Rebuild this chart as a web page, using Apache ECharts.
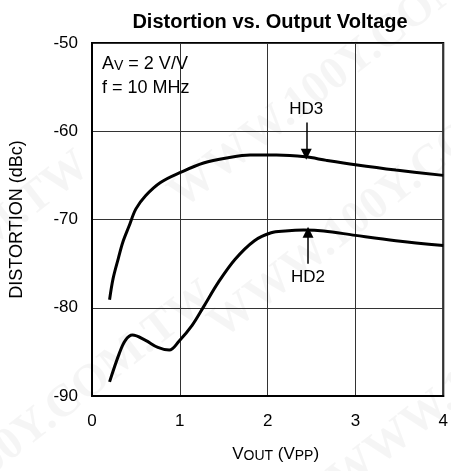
<!DOCTYPE html>
<html><head><meta charset="utf-8">
<script src="https://cdn.jsdelivr.net/npm/echarts@6/dist/echarts.min.js"></script>
<style>html,body{margin:0;padding:0;background:#fff}#c{width:451px;height:471px}</style>
</head><body><div id="c"></div>
<script>
// Data
const hd3X = [0.2, 0.24, 0.3, 0.35, 0.42, 0.5, 0.61, 0.78, 1.0, 1.27, 1.55, 1.8, 2.1, 2.43, 2.67, 3.0, 3.46, 4.0];
const hd3Y = [-79.1, -76.7, -74.4, -72.6, -70.8, -68.8, -67.3, -65.8, -64.7, -63.6, -63.0, -62.7, -62.7, -62.9, -63.3, -63.8, -64.4, -65.0];
const hd2X = [0.2, 0.31, 0.38, 0.46, 0.61, 0.75, 0.88, 0.99, 1.14, 1.27, 1.44, 1.63, 1.85, 2.04, 2.2, 2.41, 2.64, 3.0, 3.46, 4.0];
const hd2Y = [-88.4, -85.2, -83.7, -83.1, -83.7, -84.5, -84.8, -83.8, -82.0, -79.9, -77.1, -74.5, -72.4, -71.5, -71.3, -71.2, -71.3, -71.8, -72.4, -72.95];
const xTicks = [0, 1, 2, 3, 4];
const yTicks = [-90, -80, -70, -60, -50];
const hd3Arrow = {x: 2.44, from: -59.0, to: -62.6, label: 'HD3'};
const hd2Arrow = {x: 2.46, from: -75.0, to: -71.45, label: 'HD2'};

const FONT = 'Liberation Sans, Arial, sans-serif';
const pair = (xs, ys) => xs.map((x, i) => [x, ys[i]]);

const chart = echarts.init(document.getElementById('c'), null, {renderer: 'canvas'});
const wm = (x, y) => ({
  type: 'text', x, y, rotation: 0.66, z: -10, silent: true,
  style: {text: 'WWW.100Y.COM.TW', font: 'bold 46px "Liberation Serif", serif', fill: 'rgba(0,0,0,0.04)', verticalAlign: 'middle'}
});
const arrowLine = (a) => ({
  silent: true, symbol: ['none', 'triangle'], symbolSize: 11,
  lineStyle: {color: '#000', width: 1.5, type: 'solid'},
  label: {show: true, position: 'start', formatter: a.label, color: '#000', fontSize: 17, fontFamily: FONT, distance: 5},
  data: [[{coord: [a.x, a.from]}, {coord: [a.x, a.to]}]]
});
chart.setOption({
  animation: false,
  backgroundColor: '#fff',
  title: {
    text: 'Distortion vs. Output Voltage', left: 265, top: 7, textAlign: 'center',
    textStyle: {fontFamily: FONT, fontSize: 20, fontWeight: 'bold', color: '#000'}
  },
  grid: {left: 92, right: 3, top: 43, bottom: 73, show: true, borderColor: '#000', borderWidth: 2, backgroundColor: 'transparent'},
  xAxis: {
    type: 'value', min: xTicks[0], max: xTicks[xTicks.length - 1], interval: 1,
    name: '{n|V}{s|OUT}{n| (V}{s|PP}{n|)}', nameLocation: 'middle', nameGap: 46,
    nameTextStyle: {padding: [0, 0, 0, 16], rich: {
      n: {fontFamily: FONT, fontSize: 17, color: '#000', lineHeight: 24, verticalAlign: 'middle'},
      s: {fontFamily: FONT, fontSize: 14, color: '#000', lineHeight: 24, verticalAlign: 'bottom', padding: [0, 0, 3, 0]}
    }},
    axisLine: {show: true, lineStyle: {color: '#000', width: 2}},
    axisTick: {show: false},
    axisLabel: {color: '#000', fontSize: 17, fontFamily: FONT, margin: 17},
    splitLine: {show: true, lineStyle: {color: '#333', width: 1}}
  },
  yAxis: {
    type: 'value', min: yTicks[0], max: yTicks[yTicks.length - 1], interval: 10,
    name: 'DISTORTION (dBc)', nameLocation: 'middle', nameGap: 66, nameRotate: 90,
    nameTextStyle: {fontFamily: FONT, fontSize: 18, color: '#000'},
    axisLine: {show: true, lineStyle: {color: '#000', width: 2}},
    axisTick: {show: false},
    axisLabel: {color: '#000', fontSize: 17, fontFamily: FONT, margin: 14},
    splitLine: {show: true, lineStyle: {color: '#333', width: 1}}
  },
  graphic: [
    wm(175, 200), wm(215, 330), wm(-150, 570), wm(-275, 440), wm(335, 485),
    {
      type: 'text', left: 102, top: 55, z: 100,
      style: {
        text: '{n|A}{s|V}{n| = 2 V/V}\n{n|f = 10 MHz}',
        rich: {
          n: {fontFamily: FONT, fontSize: 18, fill: '#000', lineHeight: 24, verticalAlign: 'middle'},
          s: {fontFamily: FONT, fontSize: 14, fill: '#000', lineHeight: 24, verticalAlign: 'bottom', padding: [0, 0, 3, 0]}
        }
      }
    }
  ],
  series: [
    {
      name: 'HD3', type: 'line', data: pair(hd3X, hd3Y), smooth: 0.35, showSymbol: false,
      lineStyle: {color: '#000', width: 3}, markLine: arrowLine(hd3Arrow)
    },
    {
      name: 'HD2', type: 'line', data: pair(hd2X, hd2Y), smooth: 0.35, showSymbol: false,
      lineStyle: {color: '#000', width: 3}, markLine: arrowLine(hd2Arrow)
    }
  ]
});
</script></body></html>
